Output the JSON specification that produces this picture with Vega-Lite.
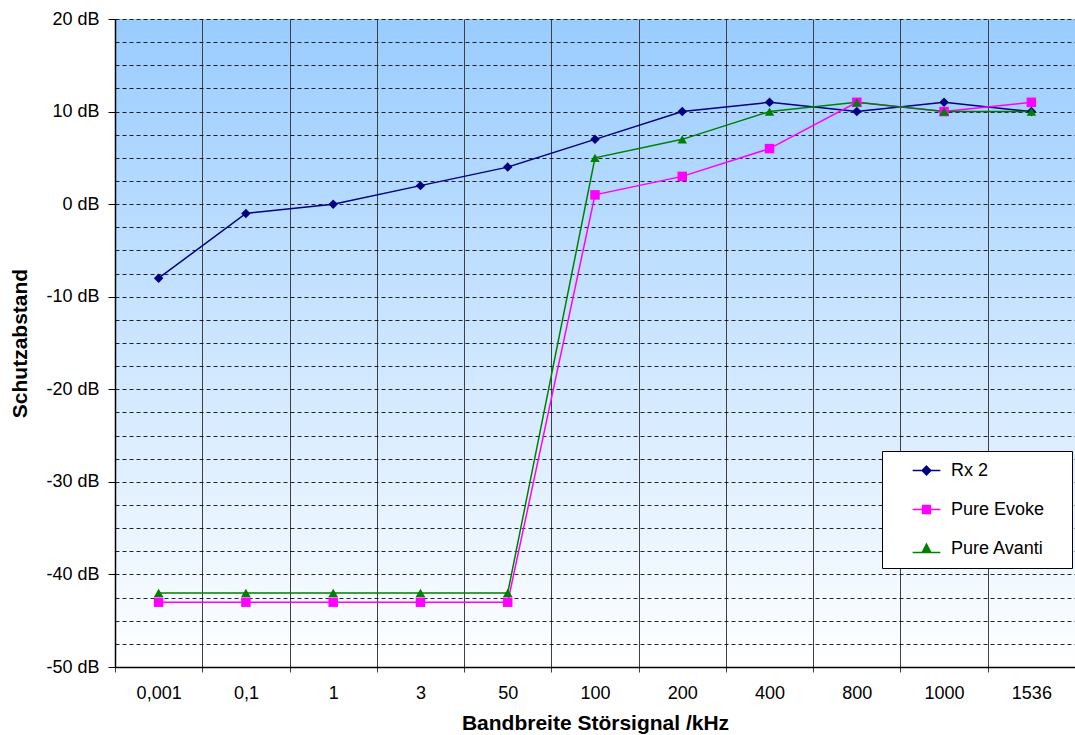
{
  "$schema": "https://vega.github.io/schema/vega-lite/v6.json",
  "autosize": {"type": "none"},
  "padding": {"left": 115, "top": 19, "right": 0, "bottom": 68},
  "width": 960,
  "height": 648,
  "background": "white",
  "config": {
    "font": "Liberation Sans",
    "view": {
      "stroke": null,
      "fill": {"gradient": "linear", "x1": 0, "y1": 0, "x2": 0, "y2": 1,
        "stops": [{"offset": 0, "color": "#99CCFF"}, {"offset": 1, "color": "#FFFFFF"}]}
    }
  },
  "data": {"values": [
    {"bw": "0,001", "series": "Rx 2", "db": -8},
    {"bw": "0,1", "series": "Rx 2", "db": -1},
    {"bw": "1", "series": "Rx 2", "db": 0},
    {"bw": "3", "series": "Rx 2", "db": 2},
    {"bw": "50", "series": "Rx 2", "db": 4},
    {"bw": "100", "series": "Rx 2", "db": 7},
    {"bw": "200", "series": "Rx 2", "db": 10},
    {"bw": "400", "series": "Rx 2", "db": 11},
    {"bw": "800", "series": "Rx 2", "db": 10},
    {"bw": "1000", "series": "Rx 2", "db": 11},
    {"bw": "1536", "series": "Rx 2", "db": 10},
    {"bw": "0,001", "series": "Pure Evoke", "db": -43},
    {"bw": "0,1", "series": "Pure Evoke", "db": -43},
    {"bw": "1", "series": "Pure Evoke", "db": -43},
    {"bw": "3", "series": "Pure Evoke", "db": -43},
    {"bw": "50", "series": "Pure Evoke", "db": -43},
    {"bw": "100", "series": "Pure Evoke", "db": 1},
    {"bw": "200", "series": "Pure Evoke", "db": 3},
    {"bw": "400", "series": "Pure Evoke", "db": 6},
    {"bw": "800", "series": "Pure Evoke", "db": 11},
    {"bw": "1000", "series": "Pure Evoke", "db": 10},
    {"bw": "1536", "series": "Pure Evoke", "db": 11},
    {"bw": "0,001", "series": "Pure Avanti", "db": -42},
    {"bw": "0,1", "series": "Pure Avanti", "db": -42},
    {"bw": "1", "series": "Pure Avanti", "db": -42},
    {"bw": "3", "series": "Pure Avanti", "db": -42},
    {"bw": "50", "series": "Pure Avanti", "db": -42},
    {"bw": "100", "series": "Pure Avanti", "db": 5},
    {"bw": "200", "series": "Pure Avanti", "db": 7},
    {"bw": "400", "series": "Pure Avanti", "db": 10},
    {"bw": "800", "series": "Pure Avanti", "db": 11},
    {"bw": "1000", "series": "Pure Avanti", "db": 10},
    {"bw": "1536", "series": "Pure Avanti", "db": 10}
  ]},
  "encoding": {
    "x": {
      "field": "bw", "type": "nominal", "sort": null,
      "scale": {"paddingInner": 0, "paddingOuter": 0},
      "axis": {
        "title": "Bandbreite Störsignal /kHz",
        "titleFontSize": 21, "titleFontWeight": "bold", "titleColor": "black", "titlePadding": 10,
        "labelAngle": 0, "labelFontSize": 18, "labelColor": "black", "labelPadding": 12,
        "tickBand": "extent", "tickSize": 5, "tickColor": "#404040",
        "domainColor": "black", "domainWidth": 1.5,
        "grid": true, "gridColor": "#404040", "gridWidth": 1
      }
    },
    "y": {
      "field": "db", "type": "quantitative",
      "scale": {"domain": [-50, 20], "nice": false, "zero": false},
      "axis": {
        "title": "Schutzabstand",
        "titleFontSize": 21, "titleFontWeight": "bold", "titleColor": "black", "titlePadding": 15,
        "values": [-50, -47.5, -45, -42.5, -40, -37.5, -35, -32.5, -30, -27.5, -25, -22.5, -20, -17.5, -15, -12.5, -10, -7.5, -5, -2.5, 0, 2.5, 5, 7.5, 10, 12.5, 15, 17.5, 20],
        "labelExpr": "datum.value % 10 === 0 ? datum.value + ' dB' : ''",
        "labelFontSize": 18, "labelColor": "black", "labelPadding": 9,
        "tickSize": 7, "tickColor": "black",
        "tickOpacity": {"condition": {"test": "datum.value % 10 === 0", "value": 1}, "value": 0},
        "domainColor": "black", "domainWidth": 1.5,
        "grid": true, "gridColor": "black", "gridDash": [4, 3], "gridWidth": 1,
        "gridOpacity": {"condition": {"test": "datum.value === -50", "value": 0}, "value": 0.85}
      }
    },
    "color": {
      "field": "series", "type": "nominal",
      "scale": {"domain": ["Rx 2", "Pure Evoke", "Pure Avanti"], "range": ["#000080", "#FF00FF", "#008000"]},
      "legend": {
        "title": "M", "titleOrient": "right", "titleOpacity": 0, "titleFontSize": 18, "titlePadding": 3,
        "orient": "none", "legendX": 767, "legendY": 432,
        "fillColor": "white", "strokeColor": "black", "padding": 10,
        "labelFontSize": 18, "labelColor": "black", "rowPadding": 20,
        "symbolSize": 300, "symbolOffset": 25, "labelOffset": 15,
        "encode": {
          "symbols": {
            "update": {
              "shape": {"signal": "datum.value === 'Rx 2' ? 'M-1.6,0H1.6M0,-0.5L0.5,0L0,0.5L-0.5,0Z' : datum.value === 'Pure Evoke' ? 'M-1.6,0H1.6M-0.45,-0.45H0.45V0.45H-0.45Z' : 'M-1.6,0.45H1.6M0,-0.5L0.5,0.45L-0.5,0.45Z'"},
              "fill": {"signal": "scale('color', datum.value)"},
              "stroke": {"signal": "scale('color', datum.value)"},
              "strokeWidth": {"value": 1.5},
              "opacity": {"value": 1},
              "fillOpacity": {"value": 1}
            }
          }
        }
      }
    }
  },
  "layer": [
    {"mark": {"type": "line", "strokeWidth": 1.5}},
    {
      "mark": {"type": "point", "filled": true, "opacity": 1, "size": 90},
      "encoding": {
        "shape": {
          "condition": [
            {"test": "datum.series === 'Rx 2'", "value": "diamond"},
            {"test": "datum.series === 'Pure Evoke'", "value": "square"}
          ],
          "value": "triangle-up"
        }
      }
    }
  ]
}
